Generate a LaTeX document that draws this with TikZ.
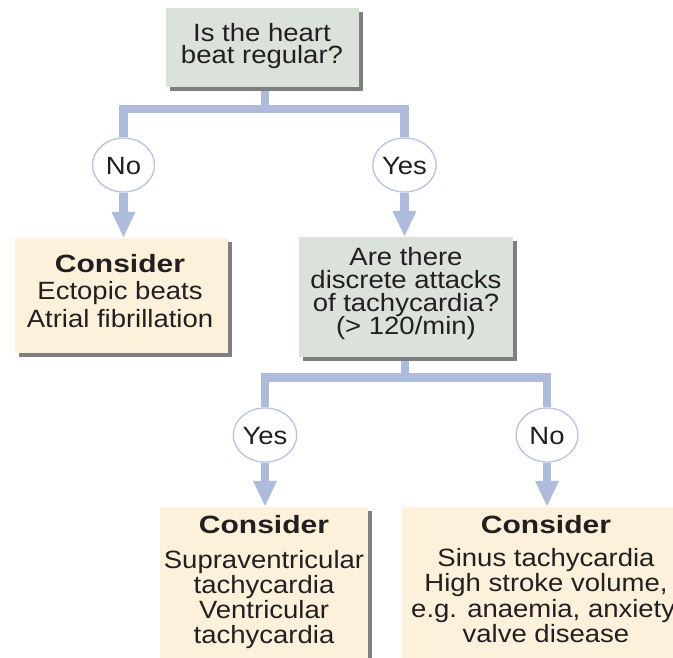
\documentclass[tikz,border=0pt]{standalone}
\usepackage{fontspec}
\setmainfont{Liberation Sans}[FakeStretch=1.1]
\newfontfamily\boldwide{Liberation Sans}[FakeStretch=1.2]
\usetikzlibrary{arrows.meta,shapes.geometric,shadows,backgrounds}
\definecolor{conn}{HTML}{AEBBDC}
\definecolor{ringc}{HTML}{B9C3E1}
\definecolor{cream}{HTML}{FDF1DC}
\definecolor{sage}{HTML}{DAE2DA}
\definecolor{shade}{HTML}{7F7F7F}
\definecolor{ink}{HTML}{231F20}
\newcommand{\cons}{{\boldwide\bfseries Consider}}
\newcommand{\txtfont}[1]{\fontsize{25}{#1}\selectfont\lineskiplimit=-30pt\lineskip=0pt}
\begin{document}
\begin{tikzpicture}[x=1pt,y=-1pt,
  box/.style={rectangle, inner sep=0pt, drop shadow={shadow xshift=3.5pt,shadow yshift=-3.5pt,opacity=1,fill=shade}},
  qbox/.style={box, fill=sage},
  abox/.style={box, fill=cream},
  ring/.style={ellipse, draw=ringc, line width=1.3pt, fill=white, minimum width=62pt, minimum height=54pt, inner sep=0pt, text height=18pt, text depth=0pt, font=\txtfont{25}, text=ink},
  bar/.style={draw=conn, line width=8.5pt},
  arr/.style={bar, -{Triangle[width=22pt,length=26pt]}},
  txt/.style={anchor=north, inner sep=0pt, align=center, text=ink},
]
\useasboundingbox (0,0) rectangle (673,657);
\clip (0,0) rectangle (673,657);

% boxes
\node[qbox, minimum width=193pt, minimum height=79pt] (top) at (262.5,47.5) {};
\node[abox, minimum width=213pt, minimum height=115pt] (left) at (121.5,295.5) {};
\node[qbox, minimum width=214pt, minimum height=120pt] (mid) at (406,297) {};
\node[abox, minimum width=208pt, minimum height=213pt] (bl) at (264,613.5) {};
\node[abox, minimum width=290pt, minimum height=213pt] (br) at (547,613.5) {};

% answer rings
\node[ring] (no1) at (123.5,165) {No};
\node[ring] (yes1) at (404.5,165) {Yes};
\node[ring] (yes2) at (265,435) {Yes};
\node[ring] (no2) at (547,435) {No};

\coordinate (j1) at (265,109);
\coordinate (j2) at (405,377.5);

\begin{scope}[on background layer]
  \fill[white] (0,0) rectangle (673,657);
  \draw[bar] (j1 |- top.south) -- (j1);
  \draw[bar] (no1.north) |- (j1) -| (yes1.north);
  \draw[bar] (j2 |- mid.south) -- (j2);
  \draw[bar] (yes2.north) |- (j2) -| (no2.north);
\end{scope}

\draw[arr] (no1.south) -- (no1.south |- left.north);
\draw[arr] (yes1.south) -- (yes1.south |- mid.north);
\draw[arr] (yes2.south) -- (yes2.south |- bl.north);
\draw[arr] (no2.south) -- (no2.south |- br.north);

% texts
\node[txt, font=\txtfont{22.5}] (ttop) at (262,21) {\rule{0pt}{20pt}Is the heart\\beat regular?};
\node[txt, font=\txtfont{27.5}] (tleft) at (120,252) {\rule{0pt}{20pt}\cons\\Ectopic beats\\Atrial fibrillation};
\node[txt, font=\txtfont{23}] (tmid) at (406,245.5) {\rule{0pt}{20pt}Are there\\discrete attacks\\of tachycardia?\\(> 120/min)};
\node[txt, font=\txtfont{25}] (tbl) at (264,513) {\rule{0pt}{20pt}\cons\\[10pt]Supraventricular\\tachycardia\\Ventricular\\tachycardia};
\node[txt, font=\txtfont{25.3}] (tbr) at (546,513) {\rule{0pt}{20pt}\cons\\[8pt]Sinus tachycardia\\High stroke volume,\\e.g. anaemia, anxiety,\\valve disease};
\end{tikzpicture}
\end{document}
